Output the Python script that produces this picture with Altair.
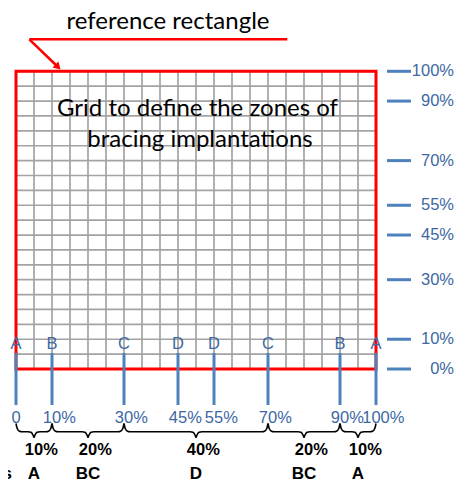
import altair as alt
import pandas as pd

# ---------------- data ----------------
grid_steps = list(range(0, 101, 5))
right_ticks = [100, 90, 70, 55, 45, 30, 10, 0]
right_labels = ["100%", "90%", "70%", "55%", "45%", "30%", "10%", "0%"]
bottom_pos = [0, 10, 30, 45, 55, 70, 90, 100]
bottom_letters = ["A", "B", "C", "D", "D", "C", "B", "A"]
bottom_labels = ["0", "10%", "30%", "45%", "55%", "70%", "90%", "100%"]
zone_bounds = [0, 10, 30, 70, 90, 100]
zone_widths = ["10%", "20%", "40%", "20%", "10%"]
zone_names = ["A", "BC", "D", "BC", "A"]
title_lines = ["Grid to define the zones of", "bracing implantations"]
callout_text = "reference rectangle"

# ---------------- geometry (page pixels -> data units) ----------------
W, H = 449, 474
ORIGIN = 8
X0_PX, X100_PX = 16.0, 376.0
Y0_PX, Y100_PX = 369.0, 71.3
sx = (X100_PX - X0_PX) / 100.0
sy = (Y0_PX - Y100_PX) / 100.0


def ux(px):
    return (px - X0_PX) / sx


def uy(py):
    return (Y0_PX - py) / sy


xscale = alt.Scale(domain=[ux(ORIGIN), ux(ORIGIN + W)], nice=False, zero=False)
yscale = alt.Scale(domain=[uy(ORIGIN + H), uy(ORIGIN)], nice=False, zero=False)


def X(f):
    return alt.X(f, type="quantitative", scale=xscale, axis=None)


def Y(f):
    return alt.Y(f, type="quantitative", scale=yscale, axis=None)


BLUE = "#4f81bd"
BLUE_TXT = "#3d68a3"
GRID = "#a3a3a3"
FONT = "Liberation Sans"

# ---------------- layers ----------------
vgrid = pd.DataFrame({"x": grid_steps, "y": 0, "y2": 100})
hgrid = pd.DataFrame({"y": grid_steps, "x": 0, "x2": 100})
vlines = alt.Chart(vgrid).mark_rule(color=GRID, strokeWidth=1.7).encode(
    x=X("x"), y=Y("y"), y2="y2")
hlines = alt.Chart(hgrid).mark_rule(color=GRID, strokeWidth=1.7).encode(
    y=Y("y"), x=X("x"), x2="x2")

rect = alt.Chart(pd.DataFrame({"x": [0], "x2": [100], "y": [0], "y2": [100]})).mark_rect(
    fillOpacity=0, stroke="#ff0000", strokeWidth=3).encode(
    x=X("x"), x2="x2", y=Y("y"), y2="y2")

# title text
tdf = pd.DataFrame({"t": title_lines, "x": [ux(197.5), ux(200)], "y": [uy(115.5), uy(146.5)]})
title = alt.Chart(tdf).mark_text(font="Lato", fontSize=24, color="#000000",
                                 align="center", baseline="alphabetic").encode(
    x=X("x"), y=Y("y"), text="t")

# callout
cdf = pd.DataFrame({"t": [callout_text], "x": [ux(168)], "y": [uy(29)]})
ctext = alt.Chart(cdf).mark_text(font="Lato", fontSize=24, color="#000000",
                                 align="center", baseline="alphabetic").encode(
    x=X("x"), y=Y("y"), text="t")
hl = pd.DataFrame({"x": [ux(29.3)], "x2": [ux(287.3)], "y": [uy(39.3)]})
cline = alt.Chart(hl).mark_rule(color="#ff0000", strokeWidth=2.5).encode(
    x=X("x"), x2="x2", y=Y("y"))
dl = pd.DataFrame({"x": [ux(29.3)], "x2": [ux(57.5)], "y": [uy(39.3)], "y2": [uy(66.5)]})
dline = alt.Chart(dl).mark_rule(color="#ff0000", strokeWidth=2.5).encode(
    x=X("x"), x2="x2", y=Y("y"), y2="y2")
arrow = alt.Chart(pd.DataFrame({"x": [ux(58.0)], "y": [uy(67.0)]})).mark_point(
    shape="triangle-up", angle=135, filled=True, color="#ff0000", opacity=1, size=70).encode(
    x=X("x"), y=Y("y"))

# right ticks
rdf = pd.DataFrame({"v": right_ticks, "lab": right_labels,
                    "x": ux(387), "x2": ux(411), "xt": ux(454)})
rticks = alt.Chart(rdf).mark_rule(color=BLUE, strokeWidth=3).encode(
    x=X("x"), x2="x2", y=Y("v"))
rlabels = alt.Chart(rdf).mark_text(font=FONT, fontSize=16.5, color=BLUE_TXT,
                                   align="right", baseline="middle").encode(
    x=X("xt"), y=Y("v"), text="lab")

# bottom markers
digit_w = 0.556 * 16.5
bdf = pd.DataFrame({"p": bottom_pos, "letter": bottom_letters, "lab": bottom_labels})
bdf["ndig"] = bdf["lab"].str.replace("%", "").str.len()
bdf["xl"] = bdf["p"] - bdf["ndig"] * digit_w / 2 / sx
bdf["y1"] = uy(353)
bdf["y2"] = uy(405)
bdf["yl"] = uy(343.5)
bdf["yb"] = uy(417.5)
brules = alt.Chart(bdf).mark_rule(color=BLUE, strokeWidth=3).encode(
    x=X("p"), y=Y("y1"), y2="y2")
bletters = alt.Chart(bdf).mark_text(font=FONT, fontSize=16.5, color=BLUE_TXT,
                                    align="center", baseline="middle").encode(
    x=X("p"), y=Y("yl"), text="letter")
blabels = alt.Chart(bdf).mark_text(font=FONT, fontSize=16.5, color=BLUE_TXT,
                                   align="left", baseline="middle").encode(
    x=X("xl"), y=Y("yb"), text="lab")

# braces
rows = []
for k in range(len(zone_widths)):
    a = X0_PX + zone_bounds[k] * sx
    b = X0_PX + zone_bounds[k + 1] * sx
    c = (a + b) / 2
    pts = [(a, 423.5), (a + 1.2, 428.5), (a + 3.5, 431.2), (a + 6, 431.7),
           (c - 6, 431.7), (c - 3, 432.3), (c - 1, 435), (c, 437.5),
           (c + 1, 435), (c + 3, 432.3), (c + 6, 431.7),
           (b - 6, 431.7), (b - 3.5, 431.2), (b - 1.2, 428.5), (b, 423.5)]
    for i, (px, py) in enumerate(pts):
        rows.append({"zone": k, "i": i, "x": ux(px), "y": uy(py)})
brdf = pd.DataFrame(rows)
braces = alt.Chart(brdf).mark_line(color="#000000", strokeWidth=1.6,
                                   interpolate="monotone").encode(
    x=X("x"), y=Y("y"), detail="zone:N", order="i:Q")

zdf = pd.DataFrame({"w": zone_widths, "name": zone_names,
                    "c": [(zone_bounds[k] + zone_bounds[k + 1]) / 2 for k in range(5)]})
bw = 0.556 * 16.5
zdf["ndig"] = zdf["w"].str.replace("%", "").str.len()
zdf["xl"] = zdf["c"] - zdf["ndig"] * bw / 2 / sx
zdf["yw"] = uy(450)
zdf["yn"] = uy(474)
zw = alt.Chart(zdf).mark_text(font=FONT, fontSize=16.5, fontWeight="bold", color="#000000",
                              align="left", baseline="middle").encode(
    x=X("xl"), y=Y("yw"), text="w")
zn = alt.Chart(zdf).mark_text(font=FONT, fontSize=17, fontWeight="bold", color="#000000",
                              align="center", baseline="middle").encode(
    x=X("c"), y=Y("yn"), text="name")
side = alt.Chart(pd.DataFrame({"t": ["Zones"], "x": [ux(12)], "y": [uy(474)]})).mark_text(
    font=FONT, fontSize=17, fontWeight="bold", color="#000000",
    align="right", baseline="middle").encode(x=X("x"), y=Y("y"), text="t")

chart = alt.layer(
    vlines, hlines, rect, title, ctext, cline, dline, arrow,
    rticks, rlabels, brules, bletters, blabels, braces, zw, zn, side
).properties(
    width=W, height=H, padding=0,
    autosize=alt.AutoSizeParams(type="none"),
).configure_view(stroke=None, clip=False)

chart.save("out.html", embed_options={"renderer": "svg", "actions": False})
